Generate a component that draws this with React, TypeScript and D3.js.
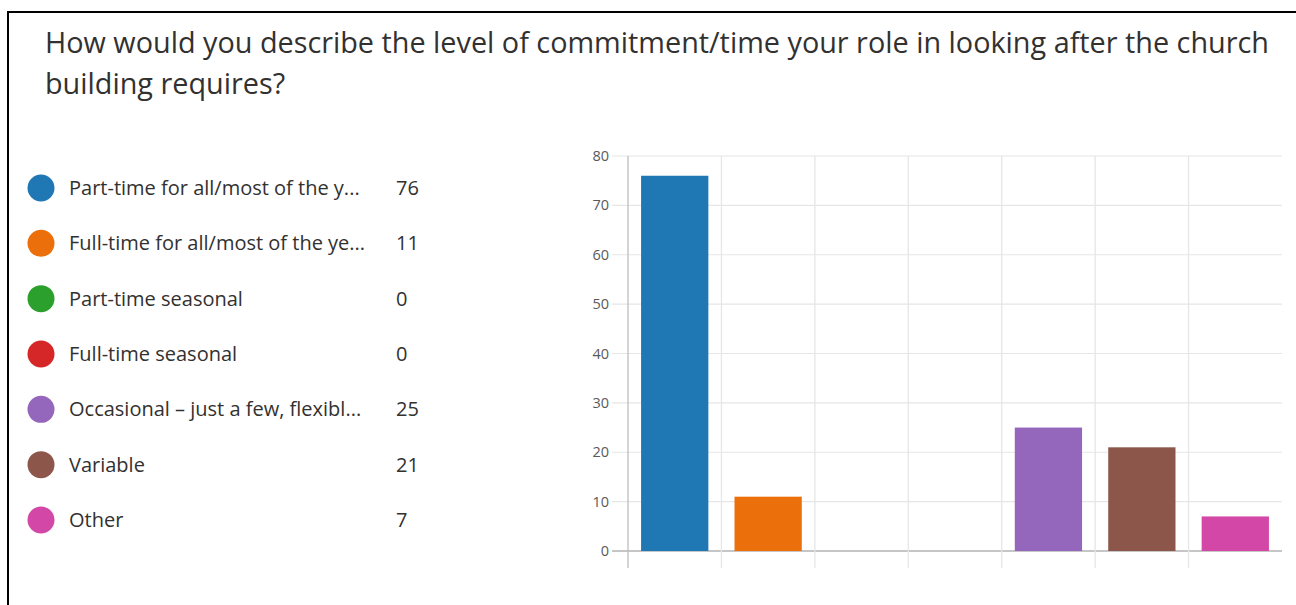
import React, { useEffect, useRef } from "react";
import * as d3 from "d3";

const titleLines = [
  "How would you describe the level of commitment/time your role in looking after the church",
  "building requires?",
];
const categories = [
  "Part-time for all/most of the y...",
  "Full-time for all/most of the ye...",
  "Part-time seasonal",
  "Full-time seasonal",
  "Occasional \u2013 just a few, flexibl...",
  "Variable",
  "Other",
];
const values = [76, 11, 0, 0, 25, 21, 7];
const colors = ["#1f77b4", "#eb700b", "#2ca02c", "#d62728", "#9467bd", "#8c564b", "#d347a6"];
const yTicks = [0, 10, 20, 30, 40, 50, 60, 70, 80];

const W = 1296;
const H = 605;
const FONT = "'Open Sans', 'Noto Sans', sans-serif";

export default function App() {
  const ref = useRef<SVGSVGElement | null>(null);

  useEffect(() => {
    const svg = d3.select(ref.current);
    svg.selectAll("*").remove();

    // frame
    svg.append("line").attr("x1", 8).attr("x2", W).attr("y1", 12).attr("y2", 12)
      .attr("stroke", "#000").attr("stroke-width", 2);
    svg.append("line").attr("x1", 8).attr("x2", 8).attr("y1", 11).attr("y2", H)
      .attr("stroke", "#000").attr("stroke-width", 2);

    // title
    const title = svg.append("text").attr("font-family", FONT).attr("font-size", 28.8)
      .attr("fill", "#323130");
    titleLines.forEach((t, i) => {
      title.append("tspan").attr("x", 45).attr("y", 53 + i * 41).text(t);
    });

    // legend
    const rowY = d3.scalePoint<number>().domain(d3.range(categories.length)).range([188, 520]);
    const lg = svg.append("g").attr("font-family", FONT).attr("font-size", 20).attr("fill", "#323130");
    categories.forEach((c, i) => {
      const y = rowY(i)!;
      lg.append("circle").attr("cx", 41).attr("cy", y).attr("r", 13.5).attr("fill", colors[i]);
      lg.append("text").attr("x", 69).attr("y", y).attr("dy", "0.35em").text(c);
      lg.append("text").attr("x", 396).attr("y", y).attr("dy", "0.35em").text(String(values[i]));
    });

    // chart
    const x0 = 628, x1 = 1282, yTop = 156, yBot = 551;
    const x = d3.scaleBand<number>().domain(d3.range(categories.length)).range([x0, x1])
      .paddingInner(0.28).paddingOuter(0.14);
    const y = d3.scaleLinear().domain([0, 80]).range([yBot, yTop]);
    const step = x.step();

    const g = svg.append("g");
    // horizontal gridlines + ticks
    yTicks.forEach((t) => {
      g.append("line").attr("x1", 612).attr("x2", x1).attr("y1", y(t)).attr("y2", y(t))
        .attr("stroke", t === 0 ? "#b3b3b3" : "#e6e6e6").attr("stroke-width", t === 0 ? 1.5 : 1.2);
      g.append("text").attr("x", 609).attr("y", y(t)).attr("dy", "0.35em")
        .attr("text-anchor", "end").attr("font-family", FONT).attr("font-size", 14.5)
        .attr("fill", "#5a5a5a").text(String(t));
    });
    // vertical gridlines
    d3.range(categories.length).forEach((i) => {
      const xv = x0 + i * step;
      g.append("line").attr("x1", xv).attr("x2", xv).attr("y1", yTop).attr("y2", 568)
        .attr("stroke", i === 0 ? "#bdbdbd" : "#e6e6e6").attr("stroke-width", 1.3);
    });
    // bars
    values.forEach((v, i) => {
      if (v <= 0) return;
      g.append("rect").attr("x", x(i)!).attr("y", y(v)).attr("width", x.bandwidth())
        .attr("height", yBot - y(v)).attr("fill", colors[i]);
    });
  }, []);

  return (
    <svg ref={ref} width={W} height={H}
      style={{ position: "absolute", left: 0, top: 0, background: "#fff" }} />
  );
}
